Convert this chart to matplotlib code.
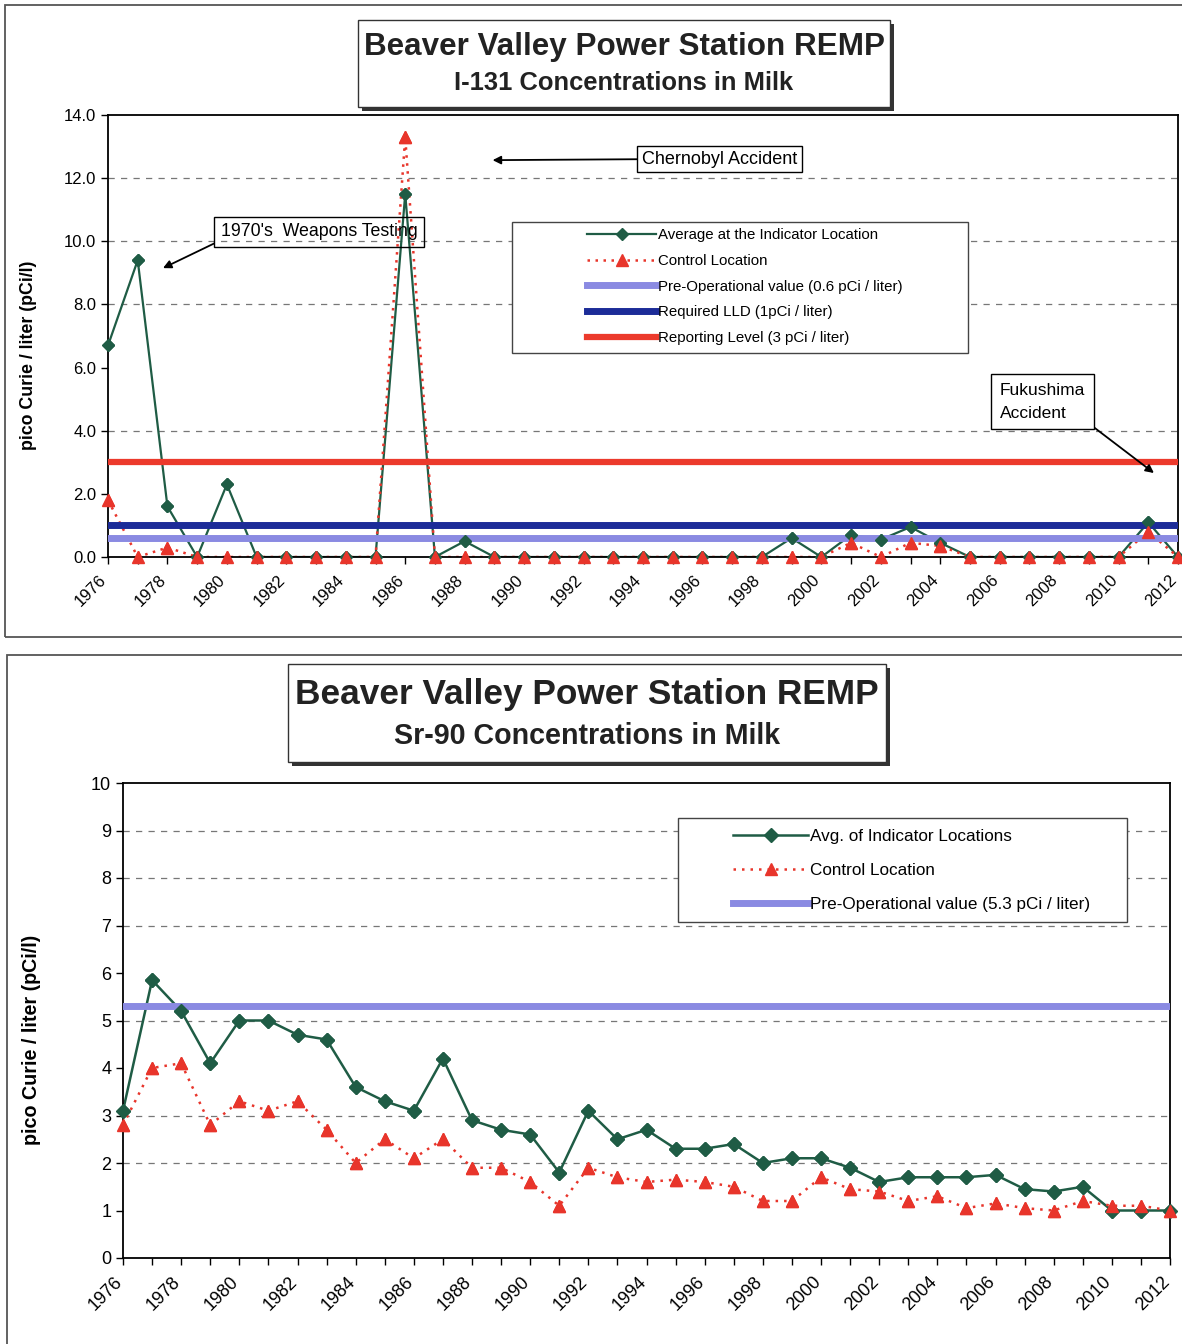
import matplotlib
matplotlib.use('Agg')
import matplotlib.pyplot as plt
from matplotlib.patches import Rectangle
from matplotlib.transforms import ScaledTranslation

plt.rcParams['font.family'] = ['Liberation Sans', 'DejaVu Sans']

years = list(range(1976, 2013))
year_labels = [str(y) if (y - 1976) % 2 == 0 else '' for y in years]

# I-131 (pCi/l)
i131_indicator = [6.7, 9.4, 1.6, 0, 2.3, 0, 0, 0, 0, 0, 11.5, 0, 0.5, 0, 0, 0, 0, 0, 0, 0, 0, 0, 0,
                  0.6, 0, 0.7, 0.55, 0.95, 0.45, 0, 0, 0, 0, 0, 0, 1.1, 0]
i131_control = [1.8, 0, 0.3, 0, 0, 0, 0, 0, 0, 0, 13.3, 0, 0, 0, 0, 0, 0, 0, 0, 0, 0, 0, 0,
                0, 0, 0.45, 0, 0.45, 0.35, 0, 0, 0, 0, 0, 0, 0.8, 0]
i131_preop = 0.6
i131_lld = 1.0
i131_reporting = 3.0

# Sr-90 (pCi/l)
sr90_indicator = [3.1, 5.85, 5.2, 4.1, 5.0, 5.0, 4.7, 4.6, 3.6, 3.3, 3.1, 4.2, 2.9,
                  2.7, 2.6, 1.8, 3.1, 2.5, 2.7, 2.3, 2.3, 2.4, 2.0, 2.1, 2.1,
                  1.9, 1.6, 1.7, 1.7, 1.7, 1.75, 1.45, 1.4, 1.5, 1.0, 1.0, 1.0]
sr90_control = [2.8, 4.0, 4.1, 2.8, 3.3, 3.1, 3.3, 2.7, 2.0, 2.5, 2.1, 2.5, 1.9,
                1.9, 1.6, 1.1, 1.9, 1.7, 1.6, 1.65, 1.6, 1.5, 1.2, 1.2, 1.7,
                1.45, 1.4, 1.2, 1.3, 1.05, 1.15, 1.05, 1.0, 1.2, 1.1, 1.1, 1.0]
sr90_preop = 5.3

GREEN = '#1f5c45'
RED = '#e8352b'
LIGHTBLUE = '#8a8ae2'
DARKBLUE = '#1c2c98'
REPRED = '#ec3a2c'

W, H = 1182, 1344
fig = plt.figure(figsize=(W / 100, H / 100), dpi=100)


def fx(px):
    return px / W


def fy(py):
    return 1 - py / H


# panel frames
fig.add_artist(Rectangle((fx(5), fy(637)), fx(1200) - fx(5), fy(5) - fy(637),
                         transform=fig.transFigure, fill=False, ec='#555555', lw=1.3))
fig.add_artist(Rectangle((fx(7), fy(1360)), fx(1200) - fx(7), fy(655) - fy(1360),
                         transform=fig.transFigure, fill=False, ec='#555555', lw=1.3))


def title_box(x0, y0, x1, y1, l1, s1, y_l1, l2, s2, y_l2):
    sh = 4
    fig.add_artist(Rectangle((fx(x0 + sh), fy(y1 + sh)), fx(x1) - fx(x0), fy(y0) - fy(y1),
                             transform=fig.transFigure, fc='#333333', ec='none'))
    fig.add_artist(Rectangle((fx(x0), fy(y1)), fx(x1) - fx(x0), fy(y0) - fy(y1),
                             transform=fig.transFigure, fc='white', ec='#333333', lw=1.0))
    cx = fx((x0 + x1) / 2)
    fig.text(cx, fy(y_l1), l1, ha='center', va='center', fontsize=s1, fontweight='bold', color='#222222')
    fig.text(cx, fy(y_l2), l2, ha='center', va='center', fontsize=s2, fontweight='bold', color='#222222')


title_box(358, 20, 890, 107, 'Beaver Valley Power Station REMP', 22.6, 47,
          'I-131 Concentrations in Milk', 18.4, 83)
title_box(288, 664, 886, 762, 'Beaver Valley Power Station REMP', 25.4, 694,
          'Sr-90 Concentrations in Milk', 20.6, 736)


def style_axis(ax, ymax, yticks, fmt, tick_fs, grid_vals):
    ax.set_xlim(years[0], years[-1])
    ax.set_ylim(0, ymax)
    ax.set_yticks(yticks)
    ax.set_yticklabels([fmt.format(v) for v in yticks], fontsize=tick_fs)
    ax.set_xticks(years)
    ax.set_xticklabels(year_labels, rotation=45, ha='right', va='top',
                       rotation_mode='anchor', fontsize=tick_fs)
    ax.tick_params(axis='both', direction='out', length=5, width=1, colors='black')
    ax.tick_params(axis='x', pad=6)
    shift = ScaledTranslation(-0.09, 0, fig.dpi_scale_trans)
    for tick in ax.xaxis.get_major_ticks():
        tick.label1.set_transform(tick.label1.get_transform() + shift)
    for s in ax.spines.values():
        s.set_color('black')
        s.set_linewidth(1.3)
    for g in grid_vals:
        ax.axhline(g, color='#777777', lw=0.9, ls=(0, (5, 5)), zorder=1)


# ---------------- Top chart ----------------
ax1 = fig.add_axes([fx(108), fy(557), fx(1178) - fx(108), fy(115) - fy(557)])
style_axis(ax1, 14, [0, 2, 4, 6, 8, 10, 12, 14], '{:.1f}', 12, [4, 8, 10, 12])

ax1.plot(years, i131_indicator, color=GREEN, lw=1.6, marker='D', ms=6.5, mfc=GREEN, mec=GREEN,
         label='Average at the Indicator Location', zorder=2)
ax1.plot(years, i131_control, color=RED, lw=1.8, ls=(0, (1, 2.2)), marker='^', ms=8.5, mfc=RED, mec=RED,
         label='Control Location', zorder=2)
ax1.axhline(i131_preop, color=LIGHTBLUE, lw=5, label='Pre-Operational value (0.6 pCi / liter)', zorder=3)
ax1.axhline(i131_lld, color=DARKBLUE, lw=5, label='Required LLD (1pCi / liter)', zorder=3)
ax1.axhline(i131_reporting, color=REPRED, lw=4.5, label='Reporting Level (3 pCi / liter)', zorder=3)
ax1.plot(years, i131_indicator, ls='none', marker='D', ms=6.5, mfc=GREEN, mec=GREEN, zorder=4, clip_on=False)
ax1.plot(years, i131_control, ls='none', marker='^', ms=8.5, mfc=RED, mec=RED, zorder=5, clip_on=False)

ax1.add_patch(Rectangle((0.3776, 0.4615), 0.8037 - 0.3776, 0.758 - 0.4615, transform=ax1.transAxes,
                        fc='white', ec='#444444', lw=1.0, zorder=6))
leg1 = ax1.legend(loc='upper left', bbox_to_anchor=(0.4477, 0.744), frameon=False, fontsize=10.8,
                  handlelength=4.6, handletextpad=0.1, labelspacing=0.78, borderpad=0, borderaxespad=0)
leg1.set_zorder(7)

ax1.set_ylabel('pico Curie / liter (pCi/l)', fontsize=12.8, fontweight='bold')
ax1.yaxis.set_label_coords(-0.0664, 0.457)

arrow_kw = dict(arrowstyle='-|>', color='black', lw=1.3, mutation_scale=12, shrinkA=0, shrinkB=0)
ax1.annotate("1970's  Weapons Testing", xy=(1977.85, 9.15), xytext=(1983.1, 10.3),
             ha='center', va='center', fontsize=12.8, zorder=8,
             bbox=dict(boxstyle='square,pad=0.35', fc='none', ec='black', lw=1.0),
             arrowprops=dict(relpos=(0, 0), **arrow_kw))
ax1.annotate('Chernobyl Accident', xy=(1988.94, 12.57), xytext=(1996.57, 12.6),
             ha='center', va='center', fontsize=13, zorder=8,
             bbox=dict(boxstyle='square,pad=0.25', fc='white', ec='black', lw=1.0),
             arrowprops=dict(relpos=(0, 0.5), **arrow_kw))
ax1.annotate('Fukushima\nAccident', xy=(2011.19, 2.66), xytext=(2006.0, 4.92),
             ha='left', va='center', linespacing=1.65, fontsize=12.5, zorder=8,
             bbox=dict(boxstyle='square,pad=0.5', fc='white', ec='black', lw=1.0),
             arrowprops=dict(relpos=(1, 0), **arrow_kw))

# ---------------- Bottom chart ----------------
ax2 = fig.add_axes([fx(123), fy(1258), fx(1170) - fx(123), fy(783) - fy(1258)])
style_axis(ax2, 10, list(range(0, 11)), '{:d}', 13, [2, 3, 5, 7, 8, 9])

ax2.plot(years, sr90_indicator, color=GREEN, lw=1.8, marker='D', ms=7.5, mfc=GREEN, mec=GREEN,
         label='Avg. of Indicator Locations', zorder=2)
ax2.plot(years, sr90_control, color=RED, lw=1.8, ls=(0, (1, 2.4)), marker='^', ms=9, mfc=RED, mec=RED,
         label='Control Location', zorder=2)
ax2.axhline(sr90_preop, color=LIGHTBLUE, lw=5, label='Pre-Operational value (5.3 pCi / liter)', zorder=3)
ax2.plot(years, sr90_indicator, ls='none', marker='D', ms=7.5, mfc=GREEN, mec=GREEN, zorder=4, clip_on=False)
ax2.plot(years, sr90_control, ls='none', marker='^', ms=9, mfc=RED, mec=RED, zorder=5, clip_on=False)

ax2.add_patch(Rectangle((0.530, 0.7074), 0.959 - 0.530, 0.926 - 0.7074, transform=ax2.transAxes,
                        fc='white', ec='#444444', lw=1.0, zorder=6))
leg2 = ax2.legend(loc='upper left', bbox_to_anchor=(0.5826, 0.903), frameon=False, fontsize=12.3,
                  handlelength=4.4, handletextpad=0.1, labelspacing=1.12, borderpad=0, borderaxespad=0)
leg2.set_zorder(7)

ax2.set_ylabel('pico Curie / liter (pCi/l)', fontsize=14.2, fontweight='bold')
ax2.yaxis.set_label_coords(-0.0783, 0.459)

fig.savefig('out.png', dpi=100)
